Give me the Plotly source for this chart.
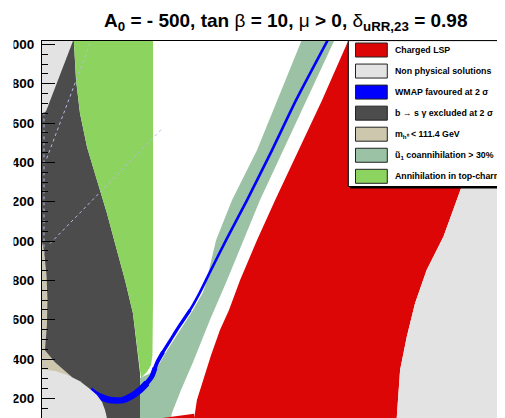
import plotly.graph_objects as go

# ---------------- data: region boundaries in the (m0, m1/2) plane [GeV] ----------------
# left boundary of the top-charm annihilation region (also b->s gamma edge)
green_left_m0 = [160, 173, 193, 229, 279, 330, 376, 422, 462, 483, 498]
green_left_m12 = [2050, 1817, 1649, 1477, 1309, 1141, 969, 801, 633, 461, 328]
green_tip_m0 = [503, 533, 554, 561, 564, 564]
green_tip_m12 = [303, 334, 369, 420, 703, 2050]

# non physical solutions, top-left triangle
np_tl_m0 = [0, 170, 20, 0]
np_tl_m12 = [2050, 2050, 1659, 1649]

# non physical solutions, bottom-left disc
np_bl_m0 = [0, 66, 127, 193, 244, 279, 305, 320, 330, 335, 0]
np_bl_m12 = [346, 339, 320, 287, 247, 217, 181, 141, 100, 50, 50]

# m_h0 < 111.4 GeV
mh_m0 = [0, 10, 23, 28, 25, 18, 15, 66, 122, 152, 0]
mh_m12 = [994, 953, 826, 703, 572, 471, 445, 384, 334, 308, 308]

# u1 coannihilation > 30 %
coann_left_m0 = [1331, 1204, 1092, 965, 884, 833, 818, 767, 716, 666, 630, 605, 584, 549, 518, 498, 498]
coann_left_m12 = [2050, 1741, 1461, 1207, 1004, 786, 740, 649, 573, 492, 436, 390, 354, 328, 313, 303, 50]
coann_right_m0 = [650, 655, 660, 706, 767, 853, 940, 1107, 1224, 1483, 1499]
coann_right_m12 = [50, 100, 125, 242, 384, 598, 801, 1207, 1461, 2015, 2050]

# charged LSP: left edge (top -> bottom)
lsp_left_m0 = [1570, 1554, 1422, 1290, 1184, 1092, 1006, 950, 904, 859, 818, 787, 777, 772, 772]
lsp_left_m12 = [2050, 2015, 1715, 1436, 1207, 1004, 801, 649, 547, 420, 293, 191, 125, 100, 50]
# charged LSP / non physical boundary on the right (bottom -> top)
np_right_m0 = [1802, 1802, 1819, 1853, 1895, 1954, 2039, 2132, 2200, 2276, 2352, 2400]
np_right_m12 = [50, 100, 344, 513, 684, 852, 1021, 1279, 1461, 1665, 1842, 2050]
# small charged-LSP sliver at the bottom
lsp_bot_m0 = [584, 680, 772, 772]
lsp_bot_m12 = [96, 108, 122, 96]

# WMAP favoured strip (centre line)
wmap_m0 = [1466, 1448, 1290, 1168, 1041, 935, 853, 803, 752, 701, 650, 615, 589, 574,
           559, 533, 498, 457, 411, 381, 345, 310, 269, 244]
wmap_m12 = [2050, 2015, 1715, 1461, 1207, 1004, 842, 740, 649, 573, 492, 436, 390, 354,
            313, 278, 242, 212, 191, 189, 191, 202, 222, 242]
# scattered WMAP points forming faint dotted lines
wdot1_m0, wdot1_m12 = [24, 244], [1420, 2005]
wdot2_m0, wdot2_m12 = [41, 615], [987, 1577]
wdot3_m0, wdot3_m12 = [10, 10], [1654, 100]

y_ticks = [200, 400, 600, 800, 1000, 1200, 1400, 1600, 1800, 2000]

legend_labels = [
    "Charged LSP",
    "Non physical solutions",
    "WMAP favoured at 2 σ",
    "b → s γ excluded at 2 σ",
    "m<sub>h⁰</sub> &lt; 111.4 GeV",
    "ũ<sub>1</sub> coannihilation &gt; 30%",
    "Annihilation in top-charm",
]

C_RED = "#dc0606"
C_GRAY = "#e3e3e3"
C_BLUE = "#0000ff"
C_DARK = "#4c4c4c"
C_TAN = "#cdc7ae"
C_COANN = "#9bc2a5"
C_GREEN = "#8cd35f"
legend_colors = [C_RED, C_GRAY, C_BLUE, C_DARK, C_TAN, C_COANN, C_GREEN]

# ---------------- figure ----------------
fig = go.Figure()


def area(x, y, color):
    fig.add_trace(go.Scatter(x=x, y=y, fill="toself", fillcolor=color, mode="lines",
                             line=dict(width=0, color=color), hoverinfo="skip"))


area([0] + green_left_m0 + [498, 0], [2050] + green_left_m12 + [50, 50], C_DARK)
area(green_left_m0 + green_tip_m0, green_left_m12 + green_tip_m12, C_GREEN)
area(mh_m0, mh_m12, C_TAN)
area(np_tl_m0, np_tl_m12, C_GRAY)
area(coann_left_m0 + coann_right_m0, coann_left_m12 + coann_right_m12, C_COANN)
area(lsp_left_m0 + np_right_m0[:1] + np_right_m0, lsp_left_m12 + [50] + np_right_m12, C_RED)
area(lsp_bot_m0, lsp_bot_m12, C_RED)
area(np_right_m0 + [2400], np_right_m12 + [50], C_GRAY)

for xs, ys in [(wdot1_m0, wdot1_m12), (wdot2_m0, wdot2_m12), (wdot3_m0, wdot3_m12)]:
    fig.add_trace(go.Scatter(x=xs, y=ys, mode="lines", hoverinfo="skip",
                             line=dict(color="#b8b8ea", width=1, dash="dot")))

# the WMAP strip widens towards its low end
for a, b, w in [(0, 10, 2.6), (8, 13, 3.2), (11, 15, 4.0), (13, 17, 5.0), (15, 24, 6.6)]:
    fig.add_trace(go.Scatter(x=wmap_m0[a:b], y=wmap_m12[a:b], mode="lines", hoverinfo="skip",
                             line=dict(color=C_BLUE, width=w, shape="spline", smoothing=0.6)))

area(np_bl_m0, np_bl_m12, C_GRAY)

# page offset (body margin) of 8 px: figure coords = window coords - 8
W, H = 505, 418
OFF = 8
L, T, R, B = 42 - OFF, 41 - OFF, OFF, OFF
PW, PH = W - L - R, H - T - B


def px_x(p):
    return (p - 42) / PW


def px_y(p):
    return (418 - p) / PH


shapes = []
# cover for the clipped leading digits of the y labels
shapes.append(dict(type="rect", xref="paper", yref="paper", x0=-0.2, x1=px_x(13.6),
                   y0=-0.1, y1=1.2, fillcolor="white", line=dict(width=0), layer="above"))
# legend box with shadow
shapes.append(dict(type="rect", xref="paper", yref="paper", x0=px_x(350.3), x1=1.1,
                   y0=px_y(188.6), y1=px_y(42.5), fillcolor="black", line=dict(width=0),
                   layer="above"))
shapes.append(dict(type="rect", xref="paper", yref="paper", x0=px_x(348.3), x1=1.1,
                   y0=px_y(186.5), y1=px_y(40.6), fillcolor="white",
                   line=dict(color="black", width=1), layer="above"))

annotations = []
row0, dy = 50.0, 21.05
for i, (lab, col) in enumerate(zip(legend_labels, legend_colors)):
    yc = row0 + i * dy
    shapes.append(dict(type="rect", xref="paper", yref="paper", x0=px_x(355.5), x1=px_x(387.3),
                       y0=px_y(yc + 7), y1=px_y(yc - 7), fillcolor=col,
                       line=dict(color="#222222", width=1), layer="above"))
    annotations.append(dict(xref="paper", yref="paper", x=px_x(393), y=px_y(yc),
                            xanchor="left", yanchor="middle", showarrow=False, text=lab,
                            font=dict(family="Liberation Sans", size=8.8, color="black",
                                      weight="bold")))

annotations.append(dict(
    xref="paper", yref="paper", x=px_x(286), y=px_y(21.5), xanchor="center", yanchor="middle",
    showarrow=False,
    text="<b>A<sub>0</sub> = - 500, tan </b>β<b> = 10, </b>μ<b> &gt; 0, </b>δ"
         "<b><sub>uRR,23</sub> = 0.98</b>",
    font=dict(family="Liberation Sans", size=19, color="black")))

fig.update_layout(
    width=W, height=H, margin=dict(l=L, r=R, t=T, b=B, pad=0, autoexpand=False),
    plot_bgcolor="white", paper_bgcolor="white", showlegend=False,
    shapes=shapes, annotations=annotations,
    xaxis=dict(range=[0, 2352], side="top", showline=True, linecolor="black", linewidth=1,
               ticks="", showticklabels=False, showgrid=False, zeroline=False, fixedrange=True,
               automargin=False),
    yaxis=dict(range=[100, 2017], showline=True, linecolor="black", linewidth=1,
               tickmode="array", tickvals=y_ticks, ticktext=[str(v) for v in y_ticks],
               ticks="inside", ticklen=13, tickwidth=1.2, tickcolor="black",
               minor=dict(ticks="inside", ticklen=6, dtick=50, tick0=0, tickcolor="black",
                          tickwidth=1, showgrid=False),
               showgrid=False, zeroline=False, ticklabelstandoff=4, automargin=False,
               tickfont=dict(family="Liberation Sans", size=13.5, color="black", weight="bold")),
)

fig.write_html("out.html")
